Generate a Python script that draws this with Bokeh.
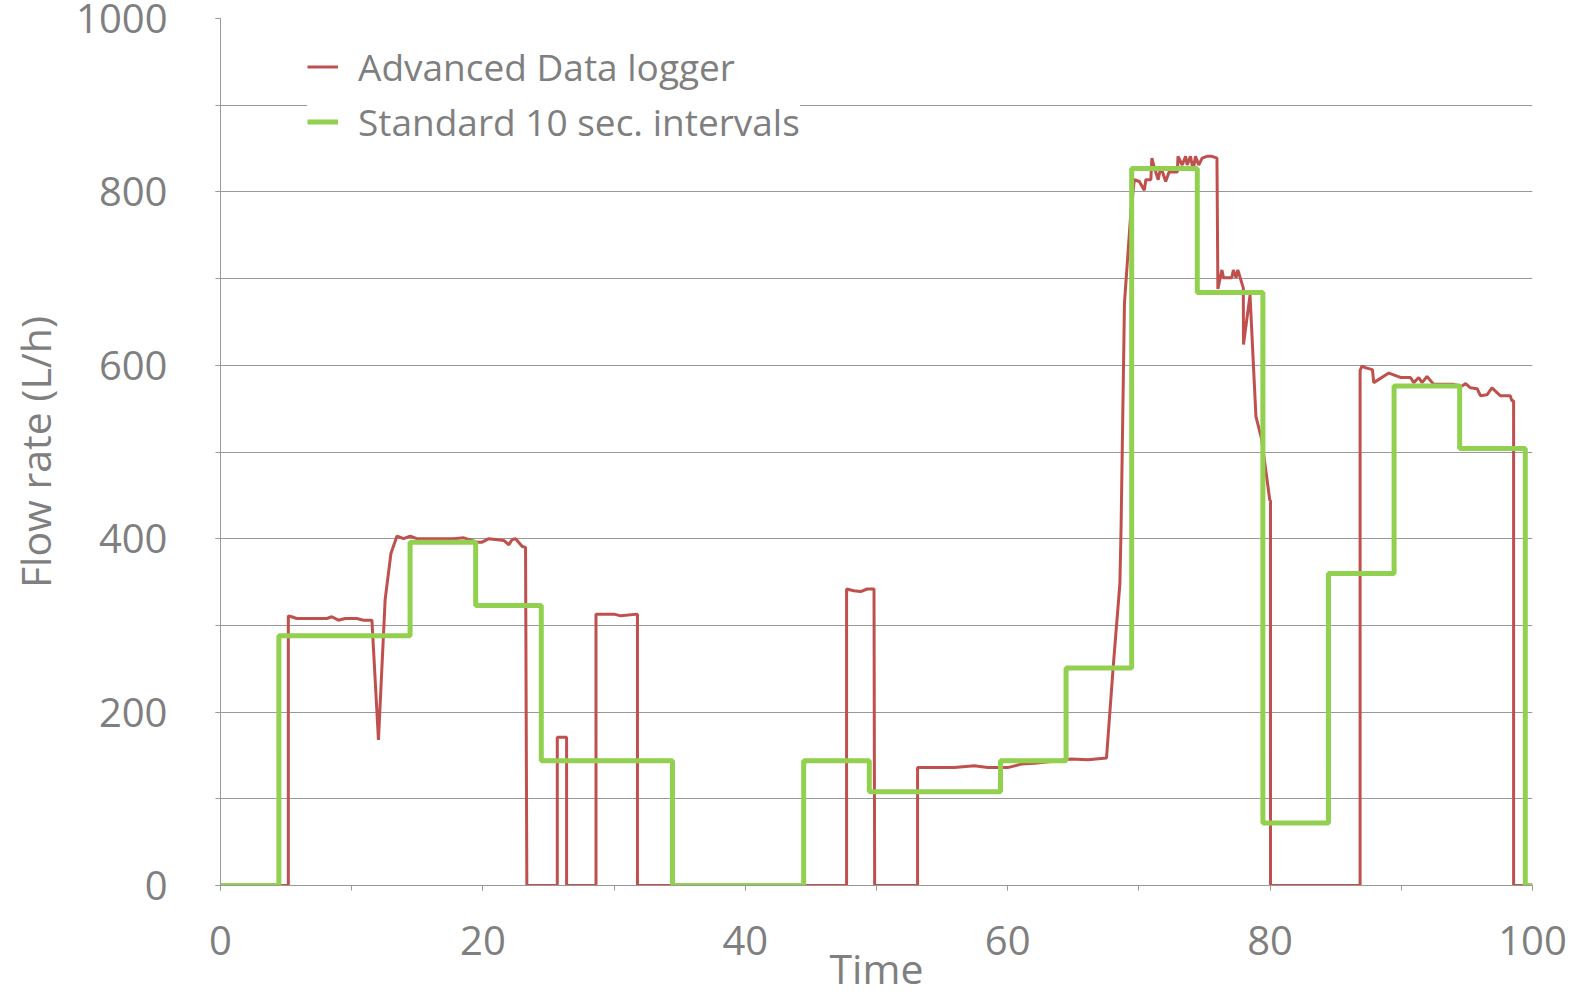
from bokeh.plotting import figure
from bokeh.models import FixedTicker, Legend, LegendItem
from bokeh.embed import file_html
from bokeh.resources import INLINE

# Advanced Data logger (red)
adv_x = [0, 5.17, 5.17, 5.42, 5.8, 8.1, 8.48, 8.99, 9.5, 10.39, 10.9, 11.54,
         12.04, 12.55, 12.99, 13.45, 13.95, 14.46, 14.97, 16.25, 16.88, 17.77, 18.54,
         19.56, 19.94, 20.45, 21.59, 21.98, 22.23, 22.49, 23.0, 23.25, 23.35,
         25.67, 25.67, 26.38, 26.38, 28.62, 28.62, 30.0, 30.5, 31.78, 31.78,
         47.72, 47.72, 48.28, 48.79, 49.3, 49.81, 49.86,
         53.13, 53.13, 54.4, 55.93, 57.46, 58.48, 60.0, 61.03, 62.05, 63.32, 64.85, 66.13, 67.53,
         68.04, 68.55, 68.64, 68.9, 69.4, 69.65, 70.03, 70.41, 70.53, 70.91, 70.99, 71.16,
         71.47, 71.67, 72.04, 72.3, 72.93, 72.98, 73.3, 73.56, 73.68, 73.93, 74.14, 74.31,
         74.56, 74.82, 75.19, 75.57, 75.95, 76.02, 76.33, 76.45, 77.08, 77.2, 77.41, 77.54,
         77.96, 77.97, 78.47, 78.92, 79.35, 79.98, 80.03, 80.03,
         86.86, 86.86, 87.0, 87.3, 87.8, 87.9, 89.05, 89.94, 90.7, 90.95, 91.33, 91.58,
         91.96, 92.47, 93.24, 94.0, 94.63, 94.9, 95.27, 95.78, 96.03, 96.53, 96.91, 97.54,
         98.3, 98.43, 98.56, 98.56, 100]
adv_y = [0, 0, 311, 310, 308, 308, 310, 306, 308, 308, 306, 306,
         168, 330, 383, 403, 400, 403, 400, 400, 400, 400, 401,
         396, 396, 400, 398, 393, 399, 400, 391, 390, 0,
         0, 171, 171, 0, 0, 313, 313, 311, 313, 0,
         0, 342, 340, 339, 342, 342, 0,
         0, 136, 136, 136, 138, 136, 136, 140, 141, 143, 146, 145, 147,
         252, 348, 411, 672, 779, 814, 812, 802, 814, 814, 839, 829,
         814, 829, 812, 823, 823, 841, 831, 841, 831, 841, 825, 841,
         831, 839, 841, 841, 839, 688, 710, 701, 701, 710, 701, 710,
         689, 624, 681, 541, 515, 444, 444, 0,
         0, 594, 599, 597, 595, 580, 591, 586, 586, 580, 586, 580,
         587, 578, 578, 578, 576, 579, 574, 573, 565, 566, 574, 565,
         565, 559, 559, 0, 0]

# Standard 10 sec. intervals (green, step values)
std_x = [0, 4.45, 9.45, 14.45, 19.45, 24.45, 29.45, 34.45, 39.45, 44.45, 49.45,
         54.45, 59.45, 64.45, 69.45, 74.45, 79.45, 84.45, 89.45, 94.45, 99.45, 100]
std_y = [0, 288, 288, 396, 323, 144, 144, 0, 0, 144, 108,
         108, 144, 251, 827, 684, 72, 360, 576, 504, 0, 0]

x_major = [0, 20, 40, 60, 80, 100]
x_minor = [0, 10, 20, 30, 40, 50, 60, 70, 80, 90, 100]
y_major = [0, 200, 400, 600, 800, 1000]
y_minor = [0, 100, 200, 300, 400, 500, 600, 700, 800, 900, 1000]

FONT = "Open Sans"
GRAY = "#7f7f7f"

p = figure(width=1581, height=998, output_backend="svg", toolbar_location=None,
           x_range=(0, 100), y_range=(0, 1000),
           min_border_left=220, min_border_right=49, min_border_top=18, min_border_bottom=113)
p.outline_line_color = None
p.background_fill_color = "white"

r_adv = p.line(adv_x, adv_y, line_color="#c0504d", line_width=3)
r_std = p.step(std_x, std_y, mode="after", line_color="#92d050", line_width=5)

p.xaxis.ticker = FixedTicker(ticks=x_major, minor_ticks=x_minor)
p.yaxis.ticker = FixedTicker(ticks=y_major, minor_ticks=y_minor)

for ax in (p.xaxis, p.yaxis):
    ax.axis_line_color = "#999999"
    ax.major_tick_line_color = "#999999"
    ax.minor_tick_line_color = "#999999"
    ax.major_tick_in = 0
    ax.minor_tick_in = 0
    ax.major_tick_out = 5
    ax.minor_tick_out = 5
    ax.major_label_text_font = FONT
    ax.major_label_text_color = GRAY
    ax.major_label_text_font_size = "40px"
    ax.axis_label_text_font = FONT
    ax.axis_label_text_color = GRAY
    ax.axis_label_text_font_size = "41px"
    ax.axis_label_text_font_style = "normal"

p.yaxis.axis_label = "Flow rate (L/h)"
p.xaxis.axis_label = "Time"
p.xaxis.major_label_standoff = 35
p.xaxis.axis_label_standoff = -18
p.yaxis.major_label_standoff = 48
p.yaxis.axis_label_standoff = 10

p.xgrid.visible = False
p.ygrid.ticker = FixedTicker(ticks=y_minor)
p.ygrid.grid_line_color = "#999999"
p.ygrid.grid_line_width = 1

legend = Legend(items=[LegendItem(label="Advanced Data logger", renderers=[r_adv]),
                       LegendItem(label="Standard 10 sec. intervals", renderers=[r_std])],
                location=(87, 738))
legend.label_text_font = FONT
legend.label_text_font_size = "37px"
legend.label_text_color = GRAY
legend.glyph_width = 31
legend.glyph_height = 45
legend.label_height = 45
legend.spacing = 4
legend.padding = 10
legend.label_standoff = 20
legend.border_line_color = None
legend.background_fill_color = "white"
legend.background_fill_alpha = 1.0
p.add_layout(legend)

open("out.html", "w").write(file_html(p, INLINE))
